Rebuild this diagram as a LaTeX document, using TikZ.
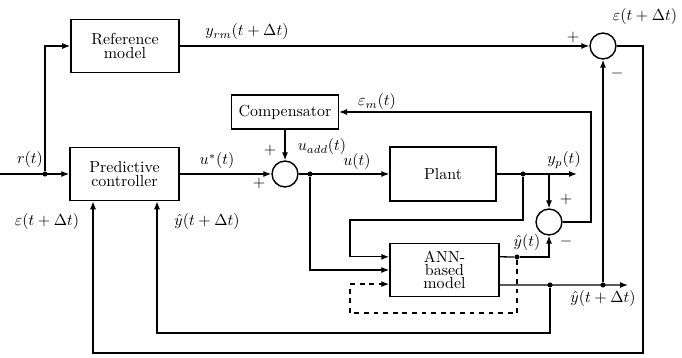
\documentclass[tikz,border=0pt]{standalone}
\usepackage{amsmath}
\usepackage{tikz}
\usetikzlibrary{arrows.meta, positioning, calc}
\tikzset{
  block/.style={rectangle, draw, fill=white, align=center,
    minimum width=2.38cm, minimum height=1.17cm, inner sep=1pt,
    font=\normalsize, line width=0.9pt},
  sumjunc/.style={circle, draw, fill=white, minimum size=0.57cm,
    inner sep=0pt, line width=0.9pt},
  dot/.style={circle, fill, inner sep=0pt, minimum size=3.2pt},
  arrow/.style={-{Latex[length=5pt, width=3.8pt]}, line width=0.8pt},
  line/.style={line width=0.8pt},
  lbl/.style={inner sep=1pt, font=\normalsize}
}
\begin{document}
\begin{tikzpicture}[x=0.022cm, y=-0.022cm]
  \useasboundingbox (0,0) rectangle (682,358);
  % blocks
  \node[block] (refm) at (125,46) {Reference\\[-3pt]model};
  \node[block, minimum width=2.40cm] (pc) at (124.5,174) {Predictive\\[-3pt]controller};
  \node[block, minimum width=2.35cm, minimum height=0.75cm] (comp) at (285,112) {Compensator};
  \node[block, minimum width=2.33cm, minimum height=1.19cm] (plant) at (443,174) {Plant};
  \node[block, minimum width=2.40cm] (ann) at (444.5,270) {ANN-\\[-4pt]based\\[-4pt]model};
  % summing junctions
  \node[sumjunc] (s1) at (285,174) {};
  \node[sumjunc] (s2) at (603,46) {};
  \node[sumjunc] (s3) at (549,222) {};
  % branch points
  \node[dot] (jr) at (45,174) {};
  \node[dot] (ju) at (310,174) {};
  \node[dot] (jp) at (523,174) {};
  \node[dot] (jh) at (517,257) {};
  \node[dot] (jf) at (550,285) {};
  \node[dot] (je) at (603,285) {};
  \coordinate (rin) at (0,174);
  \coordinate (ypend) at (577,174);
  \coordinate (yhend) at (628,285);
  \coordinate (fb1) at (350,220);
  \coordinate (fb2) at (350,313);
  \coordinate (fb3) at (157,333);
  \coordinate (fb4) at (643,353);
  \coordinate (fb5) at (93,353);
  \coordinate (fb6) at (591,112);
  % forward path
  \draw[arrow] (rin) -- (pc.west);
  \draw[arrow] (jr) |- (refm.west);
  \draw[arrow] (refm.east) -- (s2.west);
  \draw[arrow] (pc.east) -- (s1.west);
  \draw[arrow] (comp.south) -- (s1.north);
  \draw[arrow] (s1.east) -- (plant.west);
  \draw[arrow] (plant.east) -- (ypend);
  \draw[arrow] (jp -| s3) -- (s3.north);
  % model inputs
  \draw[arrow] (jp) |- (fb1) |- ([yshift=0.29cm]ann.west);
  \draw[arrow] (ju) |- (ann.west);
  \draw[arrow, dashed] (jh) |- (fb2) |- ([yshift=-0.31cm]ann.west);
  % model outputs
  \draw[line] ([yshift=0.29cm]ann.east) -- (jh);
  \draw[arrow] (jh) -| (s3.south);
  \draw[arrow] ([yshift=-0.33cm]ann.east) -- (yhend);
  \draw[arrow] (je) -- (s2.south);
  % feedback loops
  \draw[arrow] (jf) |- (fb3) -- (fb3 |- pc.south);
  \draw[arrow] (s2.east) -| (fb4) -- (fb5) -- (fb5 |- pc.south);
  \draw[arrow] (s3.east) -| (fb6) -- (comp.east);
  % labels
  \node[lbl] (lr) at (30,160) {$r(t)$};
  \node[lbl] (lyrm) at (247,32) {$y_{rm}(t+\Delta t)$};
  \node[lbl] (le) at (645,17) {$\varepsilon(t+\Delta t)$};
  \node[lbl] (lem) at (377,102) {$\varepsilon_{m}(t)$};
  \node[lbl] (luadd) at (322,147) {$u_{add}(t)$};
  \node[lbl] (lus) at (217,161) {$u^{*}(t)$};
  \node[lbl] (lu) at (357,162) {$u(t)$};
  \node[lbl] (lyp) at (564,160) {$y_{p}(t)$};
  \node[lbl] (lyh) at (527,243) {$\hat{y}(t)$};
  \node[lbl] (lyhd) at (603,299) {$\hat{y}(t+\Delta t)$};
  \node[lbl] (lel) at (47,222) {$\varepsilon(t+\Delta t)$};
  \node[lbl] (lyhc) at (207,222) {$\hat{y}(t+\Delta t)$};
  % signs
  \node[lbl] (p1) at (270,151) {$+$};
  \node[lbl] (p2) at (259,184) {$+$};
  \node[lbl] (p3) at (573,38) {$+$};
  \node[lbl] (m3) at (617,74) {$-$};
  \node[lbl] (p4) at (566,200) {$+$};
  \node[lbl] (m4) at (566,242) {$-$};
\end{tikzpicture}
\end{document}
